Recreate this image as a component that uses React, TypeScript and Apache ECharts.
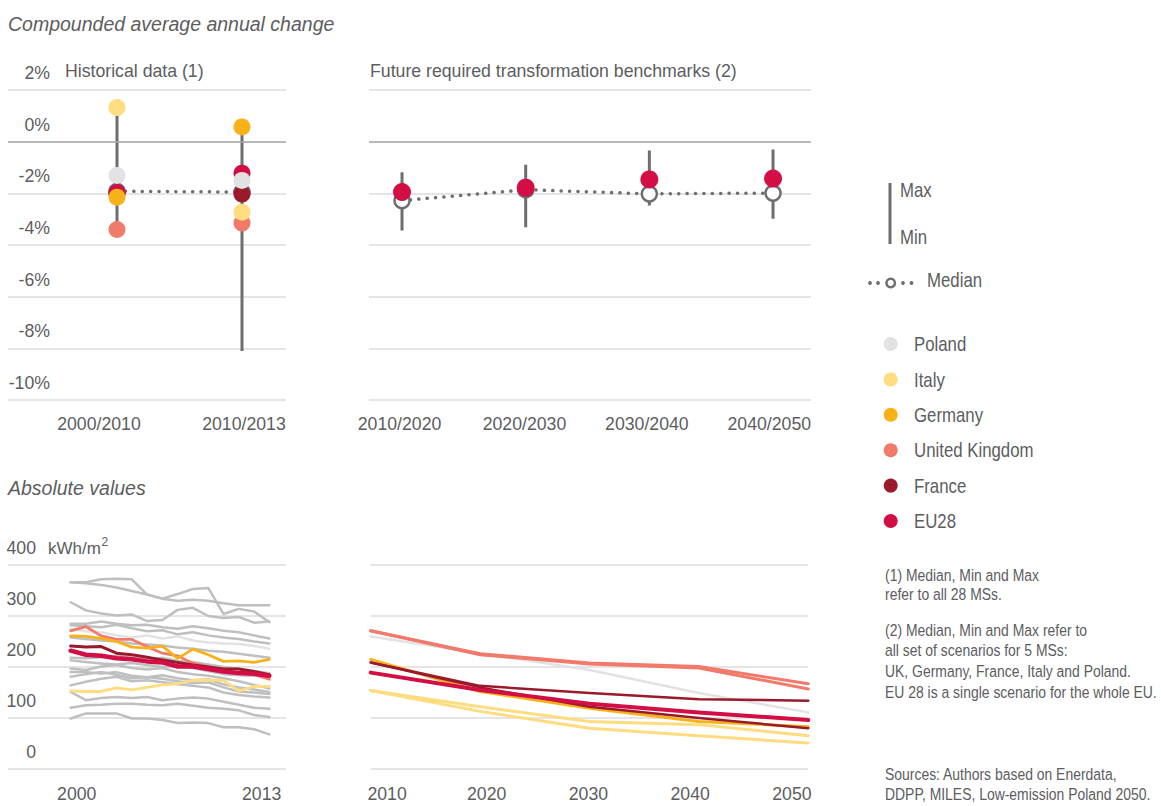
import React, { useEffect, useRef } from 'react';
import * as echarts from 'echarts';

const FONT = "'Liberation Sans', Arial, sans-serif";
const TXT = '#5c5d5f';
const WHISK = '#6d6e71';
const GRID = '#dddddf';
const ZERO = '#a9a9ab';
const GRAY = '#bebfc1';

const colors: Record<string, string> = {
  Poland: '#e2e2e4',
  Italy: '#ffdc80',
  Germany: '#f8b219',
  'United Kingdom': '#f27a6b',
  France: '#9a1a2b',
  EU28: '#d30e45',
};
const legendOrder = ['Poland', 'Italy', 'Germany', 'United Kingdom', 'France', 'EU28'];

// ---- Historical compounded annual change (%)
const histPeriods = ['2000/2010', '2010/2013'];
const histMax = [1.32, 0.57];
const histMin = [-3.4, -8.1];
const histMedian = [-1.92, -1.95];
const histPoland = [-1.31, -1.5];
const histItaly = [1.32, -2.73];
const histGermany = [-2.15, 0.57];
const histUK = [-3.4, -3.15];
const histFrance = [-2.02, -2.03];
const histEU28 = [-1.97, -1.22];

// ---- Future benchmarks (%)
const futPeriods = ['2010/2020', '2020/2030', '2030/2040', '2040/2050'];
const futMax = [-1.18, -0.89, -0.34, -0.3];
const futMin = [-3.44, -3.31, -2.47, -2.98];
const futMedian = [-2.28, -1.86, -2.02, -1.99];
const futEU28 = [-1.95, -1.78, -1.46, -1.43];

// ---- Absolute values, historical (kWh/m2)
const histYears = [2000, 2001, 2002, 2003, 2004, 2005, 2006, 2007, 2008, 2009, 2010, 2011, 2012, 2013];
const grayLines = [
  [366, 364, 361, 356, 349, 342, 334, 330, 332, 330, 325, 321, 321, 321],
  [366, 366, 372, 373, 372, 342, 334, 343, 353, 355, 304, 314, 309, 288],
  [327, 311, 305, 301, 303, 290, 292, 312, 316, 300, 296, 298, 287, 289],
  [285, 285, 289, 285, 282, 283, 278, 275, 280, 276, 271, 268, 262, 256],
  [282, 280, 278, 283, 276, 270, 272, 264, 268, 262, 258, 255, 250, 246],
  [258, 255, 252, 250, 246, 244, 242, 238, 236, 232, 230, 226, 222, 218],
  [218, 217, 219, 222, 218, 214, 218, 212, 210, 205, 200, 196, 192, 188],
  [213, 210, 207, 205, 208, 204, 200, 203, 198, 192, 186, 184, 183, 181],
  [197, 194, 201, 204, 198, 195, 198, 190, 186, 183, 178, 172, 165, 158],
  [190, 190, 187, 190, 183, 180, 184, 178, 174, 176, 166, 160, 156, 151],
  [181, 186, 190, 185, 178, 180, 177, 172, 168, 170, 160, 152, 150, 147],
  [164, 171, 177, 181, 172, 174, 170, 166, 163, 160, 150, 145, 142, 140],
  [151, 135, 139, 141, 139, 141, 135, 138, 140, 138, 132, 126, 120, 118],
  [120, 125, 126, 128, 128, 126, 125, 128, 124, 120, 118, 115, 106, 102],
  [99, 109, 109, 109, 99, 99, 96, 90, 91, 90, 82, 82, 78, 68],
];
const absPoland = [275, 270, 268, 262, 258, 262, 256, 260, 252, 248, 246, 245, 241, 236];
const absItaly = [153, 152, 152, 159, 155, 160, 165, 167, 174, 174, 174, 153, 162, 162];
const absGermany = [261, 260, 256, 250, 239, 237, 241, 217, 235, 224, 211, 212, 209, 215];
const absUK = [271, 279, 261, 254, 254, 240, 227, 222, 207, 201, 194, 189, 185, 176];
const absFrance = [241, 239, 240, 227, 224, 219, 214, 209, 204, 200, 196, 196, 191, 185];
const absEU28 = [232, 224, 222, 217, 215, 211, 209, 201, 201, 196, 191, 188, 187, 183];

// ---- Absolute values, scenarios (kWh/m2)
const futYears = [2010, 2020, 2030, 2040, 2050];
const scenPoland = [260, 227, 194, 149, 111];
const scenItalyA = [154, 122, 93, 87, 65];
const scenItalyB = [154, 113, 80, 65, 51];
const scenGermany = [215, 152, 119, 93, 83];
const scenFranceA = [209, 163, 149, 137, 134];
const scenFranceB = [209, 160, 122, 100, 80];
const scenEU28 = [189, 155, 128, 111, 96];
const scenUKA = [271, 226, 208, 201, 167];
const scenUKB = [271, 224, 206, 198, 157];

const notes = [
  '(1) Median, Min and Max',
  'refer to all 28 MSs.',
  '(2) Median, Min and Max refer to',
  'all set of scenarios for 5 MSs:',
  'UK, Germany, France, Italy and Poland.',
  'EU 28 is a single scenario for the whole EU.',
];
const sources = ['Sources: Authors based on Enerdata,', 'DDPP, MILES, Low-emission Poland 2050.'];

const lbl = { color: TXT, fontSize: 17.7, fontFamily: FONT };

function App() {
  const ref = useRef<HTMLDivElement>(null);
  useEffect(() => {
    if (!ref.current) return;
    const chart = echarts.init(ref.current, undefined, { renderer: 'svg' });

    const xBase = { type: 'value', axisLine: { show: false }, axisTick: { show: false }, splitLine: { show: false } };
    const yPct = (gi: number, showLabel: boolean) => ({
      type: 'value', gridIndex: gi, min: -10, max: 2, interval: 2,
      axisLine: { show: false }, axisTick: { show: false },
      splitLine: { lineStyle: { color: GRID, width: 1.5 } },
      axisLabel: {
        show: showLabel, ...lbl, formatter: (v: number) => v + '%',
        align: 'right', verticalAlign: 'bottom', margin: -42, padding: [0, 0, 8, 0], lineHeight: 18,
      },
    });
    const yAbs = (gi: number, showLabel: boolean) => ({
      type: 'value', gridIndex: gi, min: 0, max: 400, interval: 100,
      axisLine: { show: false }, axisTick: { show: false },
      splitLine: { lineStyle: { color: GRID, width: 1.5 } },
      axisLabel: {
        show: showLabel, ...lbl, align: 'right', verticalAlign: 'bottom', margin: -28, padding: [0, 0, 8, 0], lineHeight: 18,
      },
    });

    const zeroLine = {
      silent: true, symbol: 'none', label: { show: false },
      lineStyle: { color: ZERO, width: 1.5, type: 'solid' },
      data: [{ yAxis: 0 }],
    };

    const series: any[] = [];
    // --- top-left
    histMax.forEach((mx, i) => {
      series.push({
        type: 'line', xAxisIndex: 0, yAxisIndex: 0, symbol: 'none', z: 2,
        lineStyle: { color: WHISK, width: 3 },
        data: [[i, mx], [i, histMin[i]]],
        markLine: i === 0 ? zeroLine : undefined,
      });
    });
    series.push({
      type: 'line', xAxisIndex: 0, yAxisIndex: 0, z: 3,
      symbol: 'circle', symbolSize: 15, showSymbol: true,
      itemStyle: { color: '#fff', borderColor: WHISK, borderWidth: 2.5 },
      lineStyle: { color: WHISK, width: 3.5, type: [0.1, 8.3], cap: 'round' },
      data: histMedian.map((v, i) => [i, v]),
    });
    const histPts: [string, number[]][] = [
      ['France', histFrance], ['EU28', histEU28], ['United Kingdom', histUK],
      ['Italy', histItaly], ['Poland', histPoland], ['Germany', histGermany],
    ];
    histPts.forEach(([name, arr]) => {
      series.push({
        type: 'scatter', name, xAxisIndex: 0, yAxisIndex: 0, z: 4, symbolSize: 17,
        itemStyle: { color: colors[name], opacity: 1 },
        data: arr.map((v, i) => [i, v]),
      });
    });

    // --- top-right
    futMax.forEach((mx, i) => {
      series.push({
        type: 'line', xAxisIndex: 1, yAxisIndex: 1, symbol: 'none', z: 2,
        lineStyle: { color: WHISK, width: 3 },
        data: [[i, mx], [i, futMin[i]]],
        markLine: i === 0 ? zeroLine : undefined,
      });
    });
    series.push({
      type: 'line', xAxisIndex: 1, yAxisIndex: 1, z: 3,
      symbol: 'circle', symbolSize: 15, showSymbol: true,
      itemStyle: { color: '#fff', borderColor: WHISK, borderWidth: 2.5 },
      lineStyle: { color: WHISK, width: 3.5, type: [0.1, 8.3], cap: 'round' },
      data: futMedian.map((v, i) => [i, v]),
    });
    series.push({
      type: 'scatter', name: 'EU28', xAxisIndex: 1, yAxisIndex: 1, z: 4, symbolSize: 18,
      itemStyle: { color: colors.EU28, opacity: 1 },
      data: futEU28.map((v, i) => [i, v]),
    });

    // --- bottom-left
    const absLine = (xi: number, xs: number[], arr: number[], color: string, width: number, z = 2) => ({
      type: 'line', xAxisIndex: xi, yAxisIndex: xi, symbol: 'none', z,
      lineStyle: { color, width, cap: 'round', join: 'round' },
      data: arr.map((v, i) => [xs[i], v]),
    });
    grayLines.forEach((g) => series.push(absLine(2, histYears, g, GRAY, 2.5)));
    series.push(absLine(2, histYears, absPoland, colors.Poland, 2.5, 3));
    series.push(absLine(2, histYears, absItaly, colors.Italy, 2.8, 3));
    series.push(absLine(2, histYears, absUK, colors['United Kingdom'], 2.8, 3));
    series.push(absLine(2, histYears, absGermany, colors.Germany, 2.8, 3));
    series.push(absLine(2, histYears, absFrance, colors.France, 3, 3));
    series.push(absLine(2, histYears, absEU28, colors.EU28, 4.5, 3));

    // --- bottom-right
    series.push(absLine(3, futYears, scenPoland, colors.Poland, 2.5, 3));
    series.push(absLine(3, futYears, scenItalyA, colors.Italy, 3, 3));
    series.push(absLine(3, futYears, scenItalyB, colors.Italy, 3, 3));
    series.push(absLine(3, futYears, scenGermany, colors.Germany, 3, 3));
    series.push(absLine(3, futYears, scenFranceB, colors.France, 2.5, 3));
    series.push(absLine(3, futYears, scenFranceA, colors.France, 2.5, 3));
    series.push(absLine(3, futYears, scenEU28, colors.EU28, 4, 3));
    series.push(absLine(3, futYears, scenUKA, colors['United Kingdom'], 3, 3));
    series.push(absLine(3, futYears, scenUKB, colors['United Kingdom'], 3, 3));

    const txt = (text: string, x: number, y: number, fontSize = 17.7, scaleX = 1, extra: any = {}) => ({
      type: 'text', x, y, scaleX, silent: true,
      style: { text, fill: TXT, fontSize, fontFamily: FONT, align: 'left', verticalAlign: 'middle', ...extra },
    });

    const graphic: any[] = [
      txt('Compounded average annual change', 8, 24, 19.5, 1, { fontStyle: 'italic' }),
      txt('Absolute values', 8, 488, 19.5, 1, { fontStyle: 'italic' }),
      txt('Historical data (1)', 65, 71),
      txt('Future required transformation benchmarks (2)', 370, 71),
      txt('kWh/m', 48, 548, 17),
      txt('2', 101.5, 542, 12),
      // max/min legend
      { type: 'line', silent: true, shape: { x1: 890, y1: 183, x2: 890, y2: 244 }, style: { stroke: WHISK, lineWidth: 3 } },
      txt('Max', 900, 190, 20.5, 0.82),
      txt('Min', 900, 237, 20.5, 0.82),
      // median legend
      ...[870, 878, 903, 911.5].map((cx) => ({ type: 'circle', silent: true, shape: { cx, cy: 283, r: 1.9 }, style: { fill: WHISK } })),
      { type: 'circle', silent: true, shape: { cx: 890.7, cy: 283, r: 4.3 }, style: { fill: '#fff', stroke: WHISK, lineWidth: 2.5 } },
      txt('Median', 927, 280, 20.5, 0.82),
      ...legendOrder.flatMap((name, i) => {
        const cy = 344 + i * 35.4;
        return [
          { type: 'circle', silent: true, shape: { cx: 890.7, cy, r: 7 }, style: { fill: colors[name] } },
          txt(name, 914, cy, 20.5, 0.82),
        ];
      }),
      txt(notes[0], 885, 575, 17, 0.82),
      txt(notes[1], 885, 594, 17, 0.82),
      txt(notes[2], 885, 630, 17, 0.82),
      txt(notes[3], 885, 650, 17, 0.82),
      txt(notes[4], 885, 671, 17, 0.82),
      txt(notes[5], 885, 692, 17, 0.82),
      txt(sources[0], 885, 774, 17, 0.82),
      txt(sources[1], 885, 794, 17, 0.82),
    ];

    chart.setOption({
      animation: false,
      grid: [
        { left: 8, top: 90, width: 278, height: 310 },
        { left: 369, top: 90, width: 442, height: 310 },
        { left: 8, top: 565, width: 278, height: 204 },
        { left: 370.7, top: 565, width: 437.6, height: 204 },
      ],
      xAxis: [
        {
          ...xBase, gridIndex: 0, min: -0.872, max: 1.352,
          axisLabel: { ...lbl, margin: 15, customValues: [-0.144, 1.016], formatter: (v: number) => histPeriods[v < 0.5 ? 0 : 1] },
        },
        {
          ...xBase, gridIndex: 1, min: -0.267, max: 3.307,
          axisLabel: { ...lbl, margin: 15, customValues: [-0.02, 0.99, 1.98, 2.97], formatter: (v: number) => futPeriods[Math.round(v)] },
        },
        {
          ...xBase, gridIndex: 2, min: 1995.9, max: 2014.09,
          axisLabel: { ...lbl, margin: 16, customValues: [2000.4, 2012.5], formatter: (v: number) => String(v < 2006 ? histYears[0] : histYears[histYears.length - 1]) },
        },
        {
          ...xBase, gridIndex: 3, min: 2010, max: 2050,
          axisLabel: { ...lbl, margin: 16, customValues: [2011.5, 2020.6, 2029.9, 2039.2, 2048.5], formatter: (v: number) => String(Math.round(v / 10) * 10) },
        },
      ],
      yAxis: [yPct(0, true), yPct(1, false), yAbs(2, true), yAbs(3, false)],
      series,
      graphic,
    });
    return () => chart.dispose();
  }, []);
  return <div ref={ref} style={{ position: 'fixed', left: 0, top: 0, width: 1161, height: 806, background: '#fff' }} />;
}

export default App;
